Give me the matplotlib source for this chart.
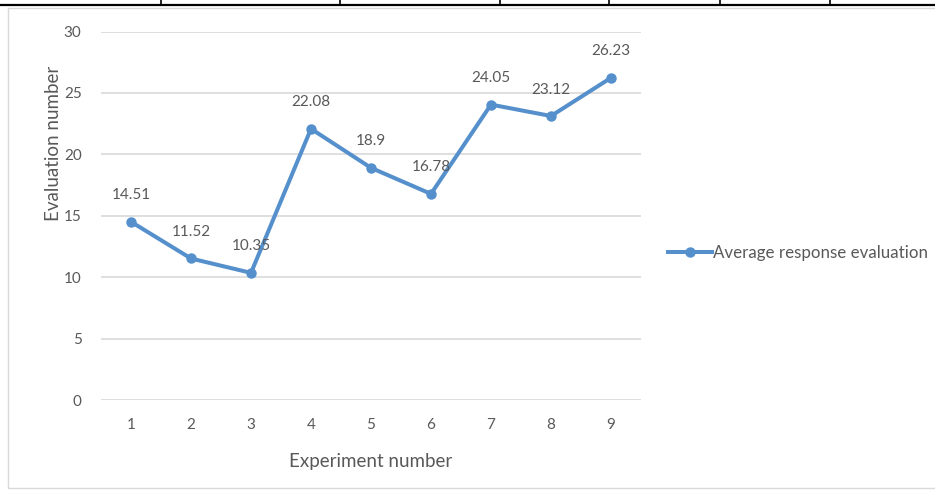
import matplotlib
matplotlib.use("Agg")
import matplotlib.pyplot as plt
from matplotlib.lines import Line2D
from matplotlib.patches import Rectangle

plt.rcParams['font.family'] = ['Lato', 'DejaVu Sans']

experiments = [1, 2, 3, 4, 5, 6, 7, 8, 9]
avg_response = [14.51, 11.52, 10.35, 22.08, 18.9, 16.78, 24.05, 23.12, 26.23]
value_labels = ["14.51", "11.52", "10.35", "22.08", "18.9", "16.78", "24.05", "23.12", "26.23"]
y_ticks = [0, 5, 10, 15, 20, 25, 30]

BLUE = "#5590CC"
TEXT = "#595959"
GRID = "#D9D9D9"

W, H = 935, 493
fig = plt.figure(figsize=(W / 100, H / 100), dpi=100)

# chart frame
fig.patches.append(Rectangle((8 / W, 5 / H), 1.2, (488 - 8) / H, transform=fig.transFigure,
                             fill=False, edgecolor="#D9D9D9", linewidth=1.0))
# table rule along the top edge
fig.add_artist(Line2D([0, 1], [1 - 4.5 / H, 1 - 4.5 / H], transform=fig.transFigure,
                      color="black", linewidth=1.6))
for xc in [161, 340, 500, 609, 720, 830]:
    fig.add_artist(Line2D([xc / W, xc / W], [1 - 4.5 / H, 1.0], transform=fig.transFigure,
                          color="black", linewidth=1.2))

ax = fig.add_axes([101 / W, (H - 400) / H, 540 / W, (400 - 31.5) / H])
ax.set_xlim(0.5, 9.5)
ax.set_ylim(0, 30)
ax.set_yticks(y_ticks)
ax.set_xticks(experiments)
ax.grid(axis='y', color=GRID, linewidth=1.2)
ax.set_axisbelow(True)
for s in ax.spines.values():
    s.set_visible(False)
ax.tick_params(length=0, colors=TEXT, labelsize=11)
ax.tick_params(axis='y', pad=14)
ax.tick_params(axis='x', pad=13)

line, = ax.plot(experiments, avg_response, color=BLUE, linewidth=2.9, marker='o',
                markersize=6.5, label="Average response evaluation")
for x, y, t in zip(experiments, avg_response, value_labels):
    ax.annotate(t, (x, y), xytext=(0, 19), textcoords='offset points',
                ha='center', va='center', color=TEXT, fontsize=11)

fig.text(371 / W, 1 - 461 / H, "Experiment number", ha='center', va='center',
         color=TEXT, fontsize=13.5)
fig.text(54 / W, 1 - 143 / H, "Evaluation number", ha='center', va='center',
         rotation=90, color=TEXT, fontsize=13.5)

fig.legend(handles=[line], loc='center left', bbox_to_anchor=(668 / W, 1 - 253 / H),
           frameon=False, fontsize=12.2, labelcolor=TEXT, handlelength=2.6,
           handletextpad=0.05, borderpad=0, borderaxespad=0)

fig.savefig("out.png", dpi=100, facecolor="white")
